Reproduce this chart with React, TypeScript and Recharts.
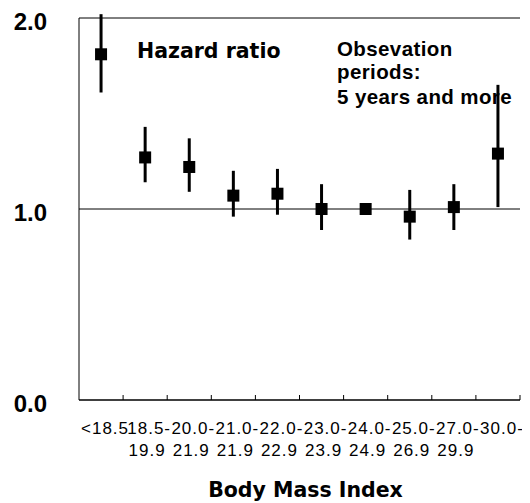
import { ScatterChart, Scatter, XAxis, YAxis, ErrorBar, ReferenceLine } from "recharts";

// BMI bands (two-line labels) and hazard ratios with 95% CI
const bmiFrom = ["<18.5", "18.5-", "20.0-", "21.0-", "22.0-", "23.0-", "24.0-", "25.0-", "27.0-", "30.0-"];
const bmiTo = ["", "19.9", "21.9", "21.9", "22.9", "23.9", "24.9", "26.9", "29.9", ""];
const hazardRatio = [1.81, 1.27, 1.22, 1.07, 1.08, 1.0, 1.0, 0.96, 1.01, 1.29];
const ciLower = [1.61, 1.14, 1.09, 0.96, 0.97, 0.89, 1.0, 0.84, 0.89, 1.01];
const ciUpper = [2.02, 1.43, 1.37, 1.2, 1.21, 1.13, 1.0, 1.1, 1.13, 1.65];
const yTicks = [0, 1, 2];

const data = bmiFrom.map((_, i) => ({
  x: i + 0.5,
  hr: hazardRatio[i],
  ci: [hazardRatio[i] - ciLower[i], ciUpper[i] - hazardRatio[i]],
}));

// band centres carry the labels, band edges carry the small tick marks
const xTicks = bmiFrom.flatMap((_, i) => [i + 0.5, i + 1]);

const gothic = "'DejaVu Sans', sans-serif";
const arial = "'Liberation Sans', Arial, sans-serif";

const Square = (props: any) => {
  const { cx, cy } = props;
  return <rect x={cx - 6} y={cy - 6} width={12} height={12} fill="#000" />;
};

const BmiTick = (props: any) => {
  const { x, y, payload } = props;
  const v = payload.value;
  if (Number.isInteger(v)) {
    return <line x1={x} x2={x} y1={y} y2={y - 5} stroke="#000" strokeWidth={1} />;
  }
  const i = Math.floor(v);
  const textProps = { textAnchor: "middle" as const, fontFamily: arial, fontSize: 17, letterSpacing: 1, fill: "#000" };
  return (
    <g>
      <text x={x + 4} y={y + 34} {...textProps}>
        {bmiFrom[i]}
      </text>
      <text x={x + 2} y={y + 56} {...textProps}>
        {bmiTo[i]}
      </text>
    </g>
  );
};

const HrTick = (props: any) => {
  const { x, y, payload } = props;
  return (
    <text x={x} y={y + 12} textAnchor="end" fontFamily={arial} fontWeight="bold" fontSize={24} fill="#000">
      {payload.value.toFixed(1)}
    </text>
  );
};

export default function App() {
  return (
    <div style={{ position: "relative", width: 522, height: 495 }}>
      <ScatterChart width={522} height={495} margin={{ top: 10, right: 10, bottom: 0, left: 0 }}>
        <XAxis
          type="number"
          dataKey="x"
          domain={[0, 10]}
          ticks={xTicks}
          interval={0}
          tickLine={false}
          tickSize={0}
          tickMargin={0}
          axisLine={{ stroke: "#000", strokeWidth: 1.4 }}
          height={103}
          tick={<BmiTick />}
          label={{
            content: ({ viewBox }: any) => (
              <text
                x={viewBox.x + viewBox.width / 2 + 6}
                y={viewBox.y + 97}
                textAnchor="middle"
                fontFamily={gothic}
                fontWeight="bold"
                fontSize={20.5}
                fill="#000"
              >
                Body Mass Index
              </text>
            ),
          }}
        />
        <YAxis
          type="number"
          dataKey="hr"
          domain={[0, 2]}
          ticks={yTicks}
          allowDataOverflow
          width={71}
          tickLine={false}
          tickSize={0}
          tickMargin={32}
          axisLine={{ stroke: "#000", strokeWidth: 1 }}
          tick={<HrTick />}
        />
        <ReferenceLine y={2} stroke="#000" strokeWidth={1} />
        <ReferenceLine y={1} stroke="#000" strokeWidth={1} />
        <Scatter data={data} shape={<Square />} isAnimationActive={false}>
          <ErrorBar dataKey="ci" direction="y" width={0} stroke="#000" strokeWidth={3} isAnimationActive={false} />
        </Scatter>
      </ScatterChart>
      <svg
        width={522}
        height={495}
        style={{ position: "absolute", left: 0, top: 0, pointerEvents: "none" }}
      >
        <text x={129} y={50} fontFamily={gothic} fontWeight="bold" fontSize={20.5} fill="#000">
          Hazard ratio
        </text>
        <text fontFamily={arial} fontWeight="bold" fontSize={20.5} letterSpacing={0.4} fill="#000">
          <tspan x={329} y={48}>Obsevation</tspan>
          <tspan x={329} y={71}>periods:</tspan>
          <tspan x={329} y={96}>5 years and more</tspan>
        </text>
      </svg>
    </div>
  );
}
